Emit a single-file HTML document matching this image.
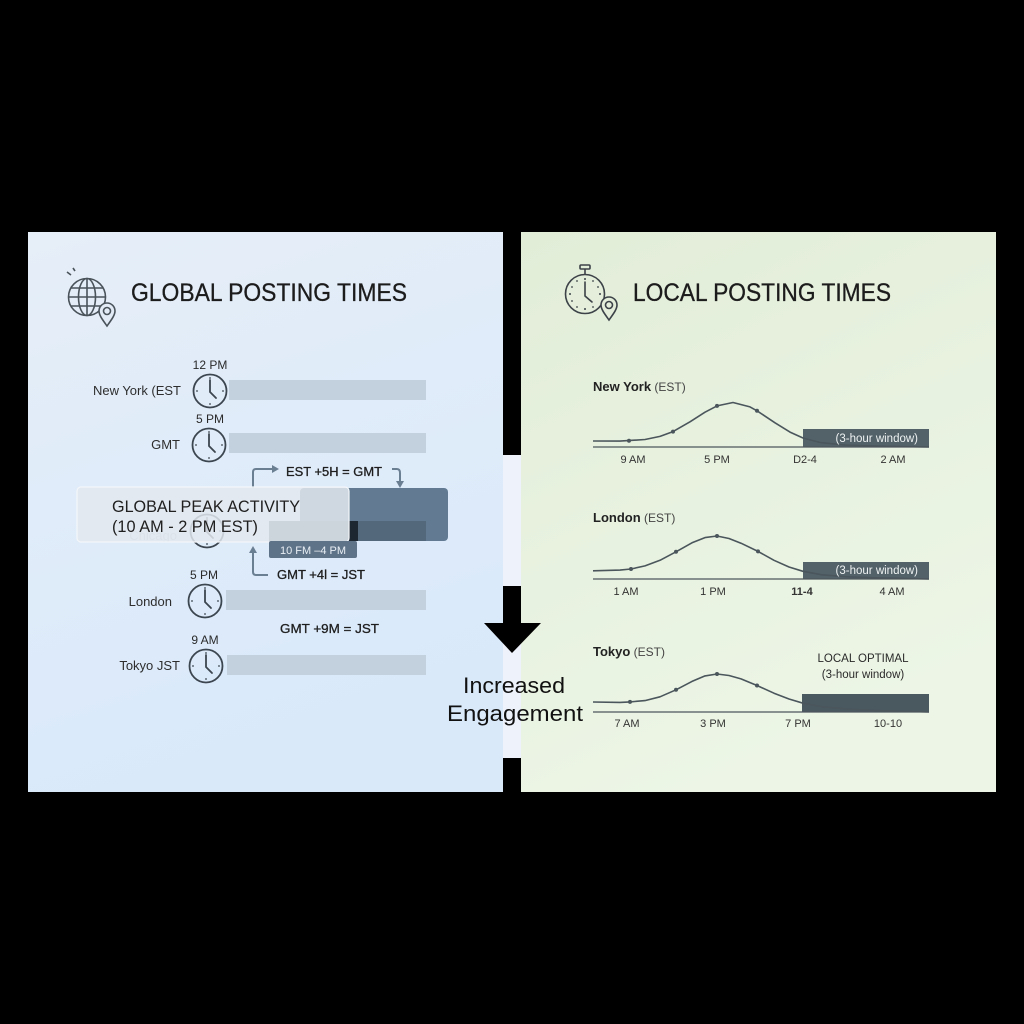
<!DOCTYPE html>
<html><head><meta charset="utf-8"><style>
html,body{margin:0;padding:0;background:#000;}
svg{display:block;}
text{font-family:"Liberation Sans","DejaVu Sans",sans-serif;}
</style></head><body>
<svg width="1024" height="1024" viewBox="0 0 1024 1024" xmlns="http://www.w3.org/2000/svg">
<defs>
<linearGradient id="gl" x1="0" y1="0" x2="0.3" y2="1">
<stop offset="0" stop-color="#e6eef8"/><stop offset="1" stop-color="#d9e9fa"/>
</linearGradient>
<linearGradient id="gr" x1="0" y1="0" x2="0.4" y2="1">
<stop offset="0" stop-color="#e2edd8"/><stop offset="1" stop-color="#edf6e6"/>
</linearGradient>
<g id="clk">
<circle cx="0" cy="0" r="16.5" fill="none" stroke="#3c4650" stroke-width="1.8"/>
<path d="M0,-11 L0,1 L6,7" fill="none" stroke="#3c4650" stroke-width="1.8" stroke-linecap="round" stroke-linejoin="round"/>
<circle cx="0" cy="-13" r="0.9" fill="#3c4650"/><circle cx="13" cy="0" r="0.9" fill="#3c4650"/>
<circle cx="0" cy="13" r="0.9" fill="#3c4650"/><circle cx="-13" cy="0" r="0.9" fill="#3c4650"/>
</g>
</defs>
<rect width="1024" height="1024" fill="#000"/>
<!-- panels -->
<rect x="28" y="232" width="475" height="560" fill="url(#gl)"/>
<rect x="521" y="232" width="475" height="560" fill="url(#gr)"/>
<rect x="503" y="455" width="18" height="303" fill="#eef2fb"/>

<!-- LEFT: title -->
<g fill="none" stroke="#4a525a" stroke-width="1.6">
<circle cx="87" cy="297" r="18.5"/>
<ellipse cx="87" cy="297" rx="8.5" ry="18.5"/>
<line x1="87" y1="278.5" x2="87" y2="315.5"/>
<line x1="69" y1="297" x2="105" y2="297"/>
<line x1="71.5" y1="288" x2="102.5" y2="288"/>
<line x1="71.5" y1="306" x2="102.5" y2="306"/>
<path d="M67,272 L71,275 M73,268 L75,271"/>
<path d="M107,326 C102,319 99,315 99,311 A8,8 0 0 1 115,311 C115,315 112,319 107,326 Z" fill="#e2ebf6"/>
<circle cx="107" cy="311" r="3.5"/>
</g>
<text x="131" y="301" font-size="25" fill="#1c1c1c" stroke="#1c1c1c" stroke-width="0.3" textLength="276" lengthAdjust="spacingAndGlyphs">GLOBAL POSTING TIMES</text>

<!-- rows -->
<g font-size="12" fill="#2a2a2a" text-anchor="middle">
<text x="210" y="369">12 PM</text>
<text x="210" y="423">5 PM</text>
<text x="204" y="579">5 PM</text>
<text x="205" y="644">9 AM</text>
</g>
<g font-size="13" fill="#2e2e2e" text-anchor="end">
<text x="181" y="395" textLength="88" lengthAdjust="spacingAndGlyphs">New York (EST</text>
<text x="180" y="449">GMT</text>
<text x="172" y="606">London</text>
<text x="180" y="670">Tokyo JST</text>
<text x="177" y="540" fill="#8a96a2" opacity="0.5">Chicago</text>
</g>
<use href="#clk" x="210" y="391"/>
<use href="#clk" x="209" y="445"/>
<use href="#clk" x="207" y="531"/>
<use href="#clk" x="205" y="601"/>
<use href="#clk" x="206" y="666"/>
<g fill="#c3d0dd">
<rect x="229" y="380" width="197" height="20"/>
<rect x="229" y="433" width="197" height="20"/>
<rect x="226" y="590" width="200" height="20"/>
<rect x="227" y="655" width="199" height="20"/>
</g>

<!-- conversions -->
<g font-size="12.5" fill="#1e1e1e">
<text x="286" y="476" textLength="96" lengthAdjust="spacingAndGlyphs" stroke="#1e1e1e" stroke-width="0.3">EST +5H = GMT</text>
<text x="277" y="579" textLength="88" lengthAdjust="spacingAndGlyphs" stroke="#1e1e1e" stroke-width="0.3">GMT +4l = JST</text>
<text x="280" y="633" textLength="99" lengthAdjust="spacingAndGlyphs" stroke="#1e1e1e" stroke-width="0.3">GMT +9M = JST</text>
</g>
<g fill="none" stroke="#6b7f93" stroke-width="2">
<path d="M253,488 L253,472 Q253,469 256,469 L272,469"/>
<path d="M392,469 L397,469 Q400,469 400,473 L400,482"/>
<path d="M253,552 L253,572 Q253,575 256,575 L268,575"/>
</g>
<g fill="#6b7f93">
<polygon points="272,465 279,469 272,473"/>
<polygon points="396,481 404,481 400,488"/>
<polygon points="249,553 257,553 253,546"/>
</g>

<!-- global peak -->
<rect x="300" y="488" width="148" height="53" rx="4" fill="#627b93"/>
<rect x="269" y="521" width="157" height="20" fill="#53687b"/>
<rect x="349" y="521" width="9" height="20" fill="#1d2732"/>
<rect x="77" y="487" width="272" height="55" rx="4" fill="#e3e8ee" fill-opacity="0.84" stroke="#f4f7fa" stroke-width="1.2"/>
<rect x="269" y="541" width="88" height="17" rx="2" fill="#5f7388"/>
<text x="313" y="554" font-size="11" fill="#e8eef4" text-anchor="middle">10 FM –4 PM</text>
<text x="112" y="512" font-size="17" fill="#202020" textLength="188" lengthAdjust="spacingAndGlyphs">GLOBAL PEAK ACTIVITY</text>
<text x="112" y="532" font-size="17" fill="#202020" textLength="146" lengthAdjust="spacingAndGlyphs">(10 AM - 2 PM EST)</text>

<!-- center arrow -->
<rect x="503" y="586" width="18" height="38" fill="#000"/>
<polygon points="484,623 541,623 512,653" fill="#000"/>
<text x="514" y="693" font-size="22" fill="#111" text-anchor="middle" textLength="102" lengthAdjust="spacingAndGlyphs">Increased</text>
<text x="515" y="721" font-size="22" fill="#111" text-anchor="middle" textLength="136" lengthAdjust="spacingAndGlyphs">Engagement</text>

<!-- RIGHT title -->
<g fill="none" stroke="#3c4248" stroke-width="1.6">
<circle cx="585" cy="294" r="19.5"/>
<rect x="580" y="265" width="10" height="4" rx="1"/>
<line x1="585" y1="269" x2="585" y2="274.5"/>
<path d="M585,282 L585,296 L592,302" stroke-linecap="round" stroke-linejoin="round"/>
<path d="M609,320 C604,313 601,309 601,305 A8,8 0 0 1 617,305 C617,309 614,313 609,320 Z" fill="#e3edd9"/>
<circle cx="609" cy="305" r="3.5"/>
</g>
<g fill="#3c4248">
<circle cx="585" cy="279" r="1"/><circle cx="600" cy="294" r="1"/><circle cx="585" cy="309" r="1"/><circle cx="570" cy="294" r="1"/>
<circle cx="593" cy="281" r="0.9"/><circle cx="598" cy="287" r="0.9"/><circle cx="577" cy="281" r="0.9"/><circle cx="572" cy="287" r="0.9"/>
<circle cx="572" cy="301" r="0.9"/><circle cx="577" cy="307" r="0.9"/><circle cx="593" cy="307" r="0.9"/>
</g>
<text x="633" y="301" font-size="25" fill="#1c1c1c" stroke="#1c1c1c" stroke-width="0.3" textLength="258" lengthAdjust="spacingAndGlyphs">LOCAL POSTING TIMES</text>

<!-- NY chart -->
<text x="593" y="391" font-size="13" fill="#222"><tspan font-weight="bold">New York</tspan><tspan fill="#444" font-size="12"> (EST)</tspan></text>
<rect x="803" y="429" width="126" height="18" fill="#536269"/>
<polyline points="593,441 620,441.1 645,439.5 660,436.4 673,431.6 690,421.8 705,412.2 717,405.9 733,402.5 750,406.9 757,410.8 775,422.8 790,432.1 803,438 820,442.5 845,445.1 880,446.2 929,447" fill="none" stroke="#4a555c" stroke-width="1.6" stroke-linejoin="round"/>
<line x1="593" y1="447" x2="929" y2="447" stroke="#4d565c" stroke-width="1.3"/>
<g fill="#4a555c"><circle cx="629" cy="440.8" r="2"/><circle cx="673" cy="431.6" r="2"/><circle cx="717" cy="405.9" r="2"/><circle cx="757" cy="410.8" r="2"/></g>
<text x="918" y="442" font-size="11.5" fill="#eef2f2" text-anchor="end">(3-hour window)</text>
<g font-size="11" fill="#333" text-anchor="middle">
<text x="633" y="463">9 AM</text><text x="717" y="463">5 PM</text><text x="805" y="463">D2-4</text><text x="893" y="463">2 AM</text>
</g>

<!-- London chart -->
<text x="593" y="522" font-size="13" fill="#222"><tspan font-weight="bold">London</tspan><tspan fill="#444" font-size="12"> (EST)</tspan></text>
<rect x="803" y="562" width="126" height="17" fill="#536269"/>
<polyline points="593,570.8 620,570.1 631,569 645,565.9 660,560.3 676,551.8 692,542.8 705,537.6 717,536 729,538.5 741,543.2 758,551.4 774,560.3 789,567 803,571.3 822,574.8 847,576.8 880,577.9 929,579" fill="none" stroke="#4a555c" stroke-width="1.6" stroke-linejoin="round"/>
<line x1="593" y1="579" x2="929" y2="579" stroke="#4d565c" stroke-width="1.3"/>
<g fill="#4a555c"><circle cx="631" cy="569" r="2"/><circle cx="676" cy="551.8" r="2"/><circle cx="717" cy="536" r="2"/><circle cx="758" cy="551.4" r="2"/></g>
<text x="918" y="574" font-size="11.5" fill="#eef2f2" text-anchor="end">(3-hour window)</text>
<g font-size="11" fill="#333" text-anchor="middle">
<text x="626" y="595">1 AM</text><text x="713" y="595">1 PM</text><text x="802" y="595" font-weight="bold">11-4</text><text x="892" y="595">4 AM</text>
</g>

<!-- Tokyo chart -->
<text x="593" y="656" font-size="13" fill="#222"><tspan font-weight="bold">Tokyo</tspan><tspan fill="#444" font-size="12"> (EST)</tspan></text>
<text x="863" y="662" font-size="11.5" fill="#2a2a2a" text-anchor="middle">LOCAL OPTIMAL</text>
<text x="863" y="678" font-size="11.5" fill="#2a2a2a" text-anchor="middle">(3-hour window)</text>
<rect x="802" y="694" width="127" height="18" fill="#4a5960"/>
<polyline points="593,702 620,702.4 630,701.9 645,700.6 660,696.8 676,689.8 692,681.4 705,675.9 717,674 729,675.5 741,678.9 757,685.5 774,693.2 789,699 803,703.2 822,706.7 847,709.1 880,710.6 929,712" fill="none" stroke="#4a555c" stroke-width="1.6" stroke-linejoin="round"/>
<line x1="593" y1="712" x2="929" y2="712" stroke="#4d565c" stroke-width="1.3"/>
<g fill="#4a555c"><circle cx="630" cy="701.9" r="2"/><circle cx="676" cy="689.8" r="2"/><circle cx="717" cy="674" r="2"/><circle cx="757" cy="685.5" r="2"/></g>
<g font-size="11" fill="#333" text-anchor="middle">
<text x="627" y="727">7 AM</text><text x="713" y="727">3 PM</text><text x="798" y="727">7 PM</text><text x="888" y="727">10-10</text>
</g>
</svg>
</body></html>
